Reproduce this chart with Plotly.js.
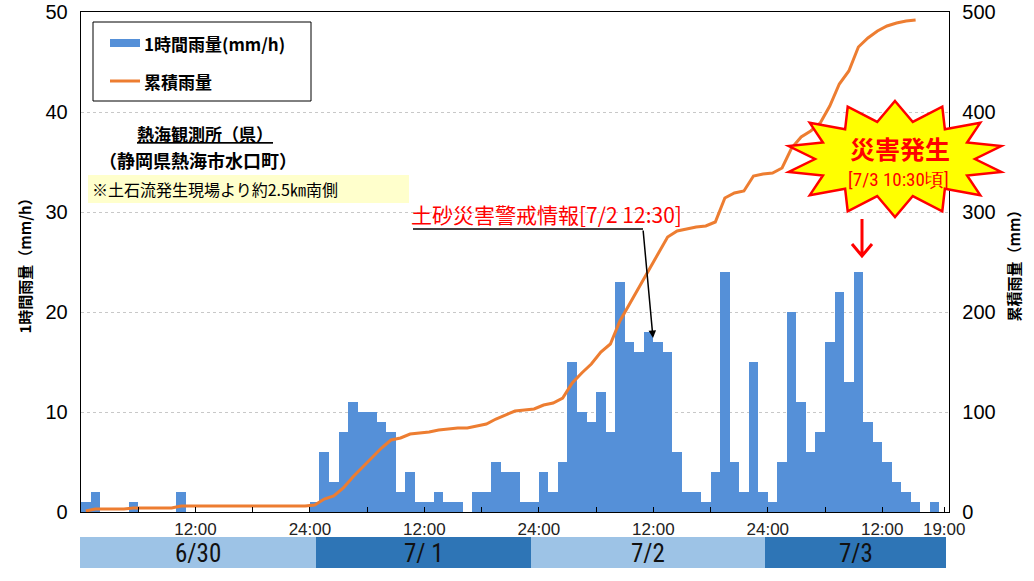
<!DOCTYPE html>
<html><head><meta charset="utf-8">
<script src="https://cdn.plot.ly/plotly-3.0.1.min.js"></script>
<style>html,body{margin:0;padding:0;background:#fff}#chart{width:1034px;height:581px}</style>
</head><body><div id="chart"></div>
<script>
// Hourly rainfall (mm/h), one bar per hour from 6/30 00:00 to 7/3 19:00
const hourlyRain = [
  1,2,0,0,0,1,0,0,0,0,2,0,0,0,0,0,0,0,0,0,0,0,0,0,
  1,6,3,8,11,10,10,9,8,2,4,1,1,2,1,1,0,2,2,5,4,4,1,1,
  4,2,5,15,10,9,12,8,23,17,16,18,17,16,6,2,2,1,4,24,5,2,15,2,
  1,5,20,11,6,8,17,22,13,24,9,7,5,3,2,1,0,1,0
];
// Cumulative rainfall (mm), read per hour
const cumulativeRain = [
  1,3,3,3,3,4,4,4,4,4,6,6,6,6,6,6,6,6,6,6,6,6,6,6,
  7,13,16,24,35,45,55,64,72,74,78,79,80,82,83,84,84,86,88,93,97,101,102,103,
  107,109,114,129,139,148,160,168,191,208,224,242,259,275,281,283,285,286,290,314,319,321,336,338,
  339,344,364,375,381,389,406,428,441,465,474,481,486,489,491,492
];
const tickHours = [6,12,18,24,30,36,42,48,54,60,66,72,78,84,90.5];
const tickLabels = ['','12:00','','24:00','','12:00','','24:00','','12:00','','24:00','','12:00','19:00'];
const dayLabels = ['6/30','7/ 1','7/2','7/3'];
const seriesNames = ['1時間雨量(mm/h)','累積雨量'];

const BAR = '#5590d8', LINE = '#ed7d31';
const L=81, R=949, T=12, B=512;
const px = x => (x-L)/(R-L);
const py = y => (B-y)/(B-T);
const CJK = 'Noto Sans CJK JP, sans-serif';
const NUM = 'Liberation Sans, Arial, sans-serif';
const NARROW = 'Liberation Sans Narrow, Arial Narrow, Roboto Condensed, sans-serif';

const barTrace = {
  type:'bar', name:seriesNames[0],
  x: hourlyRain.map((_,i)=>i+0.5), y: hourlyRain, width: 1,
  marker:{color:BAR, line:{width:0}}, yaxis:'y'
};
const lineTrace = {
  type:'scatter', mode:'lines', name:seriesNames[1],
  x: cumulativeRain.map((_,i)=>i+0.5), y: cumulativeRain,
  line:{color:LINE, width:3}, yaxis:'y2'
};

const shapes = [];
const annotations = [];
// day band
const dayEdges = [80,316,531,765,946];
const dayColors = ['#9dc3e6','#2e75b6','#9dc3e6','#2e75b6'];
for (let k=0;k<4;k++){
  shapes.push({type:'rect', xref:'paper', yref:'paper', x0:px(dayEdges[k]), x1:px(dayEdges[k+1]), y0:py(568), y1:py(537), fillcolor:dayColors[k], line:{width:0}, layer:'above'});
  annotations.push({xref:'paper', yref:'paper', x:px((dayEdges[k]+dayEdges[k+1])/2), y:py(553), text:dayLabels[k], showarrow:false, xanchor:'center', yanchor:'middle', font:{family:NARROW, size:25, color:'#111'}});
}
// legend
shapes.push({type:'rect', xref:'paper', yref:'paper', x0:px(93), x1:px(311), y0:py(101), y1:py(22), fillcolor:'#fff', line:{color:'#000', width:1}, layer:'above'});
shapes.push({type:'rect', xref:'paper', yref:'paper', x0:px(110), x1:px(140), y0:py(47), y1:py(39), fillcolor:BAR, line:{width:0}, layer:'above'});
shapes.push({type:'line', xref:'paper', yref:'paper', x0:px(110), x1:px(140), y0:py(81), y1:py(81), line:{color:LINE, width:3}, layer:'above'});
annotations.push({xref:'paper', yref:'paper', x:px(142), y:py(43), text:seriesNames[0], showarrow:false, xanchor:'left', yanchor:'middle', font:{family:CJK, size:17, color:'#000', weight:'bold'}});
annotations.push({xref:'paper', yref:'paper', x:px(142), y:py(81), text:seriesNames[1], showarrow:false, xanchor:'left', yanchor:'middle', font:{family:CJK, size:17, color:'#000', weight:'bold'}});
// station text
annotations.push({xref:'paper', yref:'paper', x:px(205), y:py(133), text:'<u>熱海観測所（県）</u>', showarrow:false, xanchor:'center', yanchor:'middle', font:{family:CJK, size:17, color:'#000', weight:'bold'}});
annotations.push({xref:'paper', yref:'paper', x:px(198), y:py(160), text:'（静岡県熱海市水口町）', showarrow:false, xanchor:'center', yanchor:'middle', font:{family:CJK, size:18, color:'#000', weight:'bold'}});
shapes.push({type:'rect', xref:'paper', yref:'paper', x0:px(88), x1:px(409), y0:py(203), y1:py(175), fillcolor:'#ffffcc', line:{width:0}, layer:'above'});
annotations.push({xref:'paper', yref:'paper', x:px(90), y:py(189), text:'※土石流発生現場より約2.5㎞南側', showarrow:false, xanchor:'left', yanchor:'middle', font:{family:CJK, size:16, color:'#000'}});
// warning annotation
annotations.push({xref:'paper', yref:'paper', x:px(409), y:py(214), text:'土砂災害警戒情報[7/2 12:30]', showarrow:false, xanchor:'left', yanchor:'middle', font:{family:CJK, size:21, color:'#ff0000'}});
shapes.push({type:'line', xref:'paper', yref:'paper', x0:px(413), x1:px(643), y0:py(229), y1:py(229), line:{color:'#000', width:1.5}, layer:'above'});
annotations.push({xref:'x', yref:'y', x:(653-L)/((R-L)/91), y:(B-338)/10, ax:-10, ay:-109, text:'', showarrow:true, arrowhead:2, arrowsize:1, arrowwidth:1.5, arrowcolor:'#000'});
// starburst
function starPath(cx, cy, rxo, ryo, rxi, ryi, n){
  let d='';
  for (let k=0;k<2*n;k++){
    const a = -Math.PI/2 + k*Math.PI/n;
    const o = k%2===0;
    const x = cx + (o?rxo:rxi)*Math.cos(a);
    const y = cy + (o?ryo:ryi)*Math.sin(a);
    d += (k?'L':'M') + px(x).toFixed(5)+','+py(y).toFixed(5);
  }
  return d+'Z';
}
shapes.push({type:'path', xref:'paper', yref:'paper', path:starPath(895,159,109,58,80,38,14), fillcolor:'#ffff00', line:{color:'#ff0000', width:2.5}, layer:'above'});
annotations.push({xref:'paper', yref:'paper', x:px(900), y:py(148), text:'災害発生', showarrow:false, xanchor:'center', yanchor:'middle', font:{family:CJK, size:25, color:'#ff0000', weight:'bold'}});
annotations.push({xref:'paper', yref:'paper', x:px(898), y:py(180), text:'[7/3 10:30頃]', showarrow:false, xanchor:'center', yanchor:'middle', font:{family:NARROW, size:19, color:'#ff0000'}});
shapes.push({type:'path', xref:'paper', yref:'paper', path:'M'+px(862)+','+py(219)+'L'+px(862)+','+py(256)+'M'+px(852)+','+py(244)+'L'+px(862)+','+py(256)+'L'+px(872)+','+py(244), line:{color:'#ff0000', width:3}, layer:'above'});

const layout = {
  width:1034, height:581,
  margin:{l:L, r:1034-R, t:T, b:581-B, pad:0},
  paper_bgcolor:'#fff', plot_bgcolor:'#fff',
  showlegend:false, bargap:0,
  xaxis:{range:[0,91], tickmode:'array', tickvals:tickHours, ticktext:tickLabels,
    ticks:'inside', ticklen:5, tickcolor:'#000', showgrid:false, showline:true, linecolor:'#000', linewidth:1.3, mirror:true,
    zeroline:false, fixedrange:true, tickfont:{family:NUM, size:17, color:'#222'}, ticklabelstandoff:1},
  yaxis:{range:[0,50], tickmode:'linear', tick0:0, dtick:10, showgrid:true, gridcolor:'#c8c8c8', griddash:'dot', gridwidth:1,
    showline:true, linecolor:'#000', linewidth:1.3, zeroline:false, ticks:'', tickfont:{family:NUM, size:20, color:'#000'}, ticklabelstandoff:8,
    title:{text:'1時間雨量（mm/h）', font:{family:CJK, size:15, color:'#000', weight:'bold'}, standoff:10}},
  yaxis2:{overlaying:'y', side:'right', range:[0,500], tickmode:'linear', tick0:0, dtick:100, showgrid:false,
    showline:true, linecolor:'#000', linewidth:1.3, zeroline:false, ticks:'', tickfont:{family:NUM, size:20, color:'#000'}, ticklabelstandoff:8,
    title:{text:'累積雨量（mm）', font:{family:CJK, size:15, color:'#000', weight:'bold'}, standoff:14}},
  shapes, annotations
};
Plotly.newPlot('chart', [barTrace, lineTrace], layout, {staticPlot:true, displayModeBar:false});
</script></body></html>
